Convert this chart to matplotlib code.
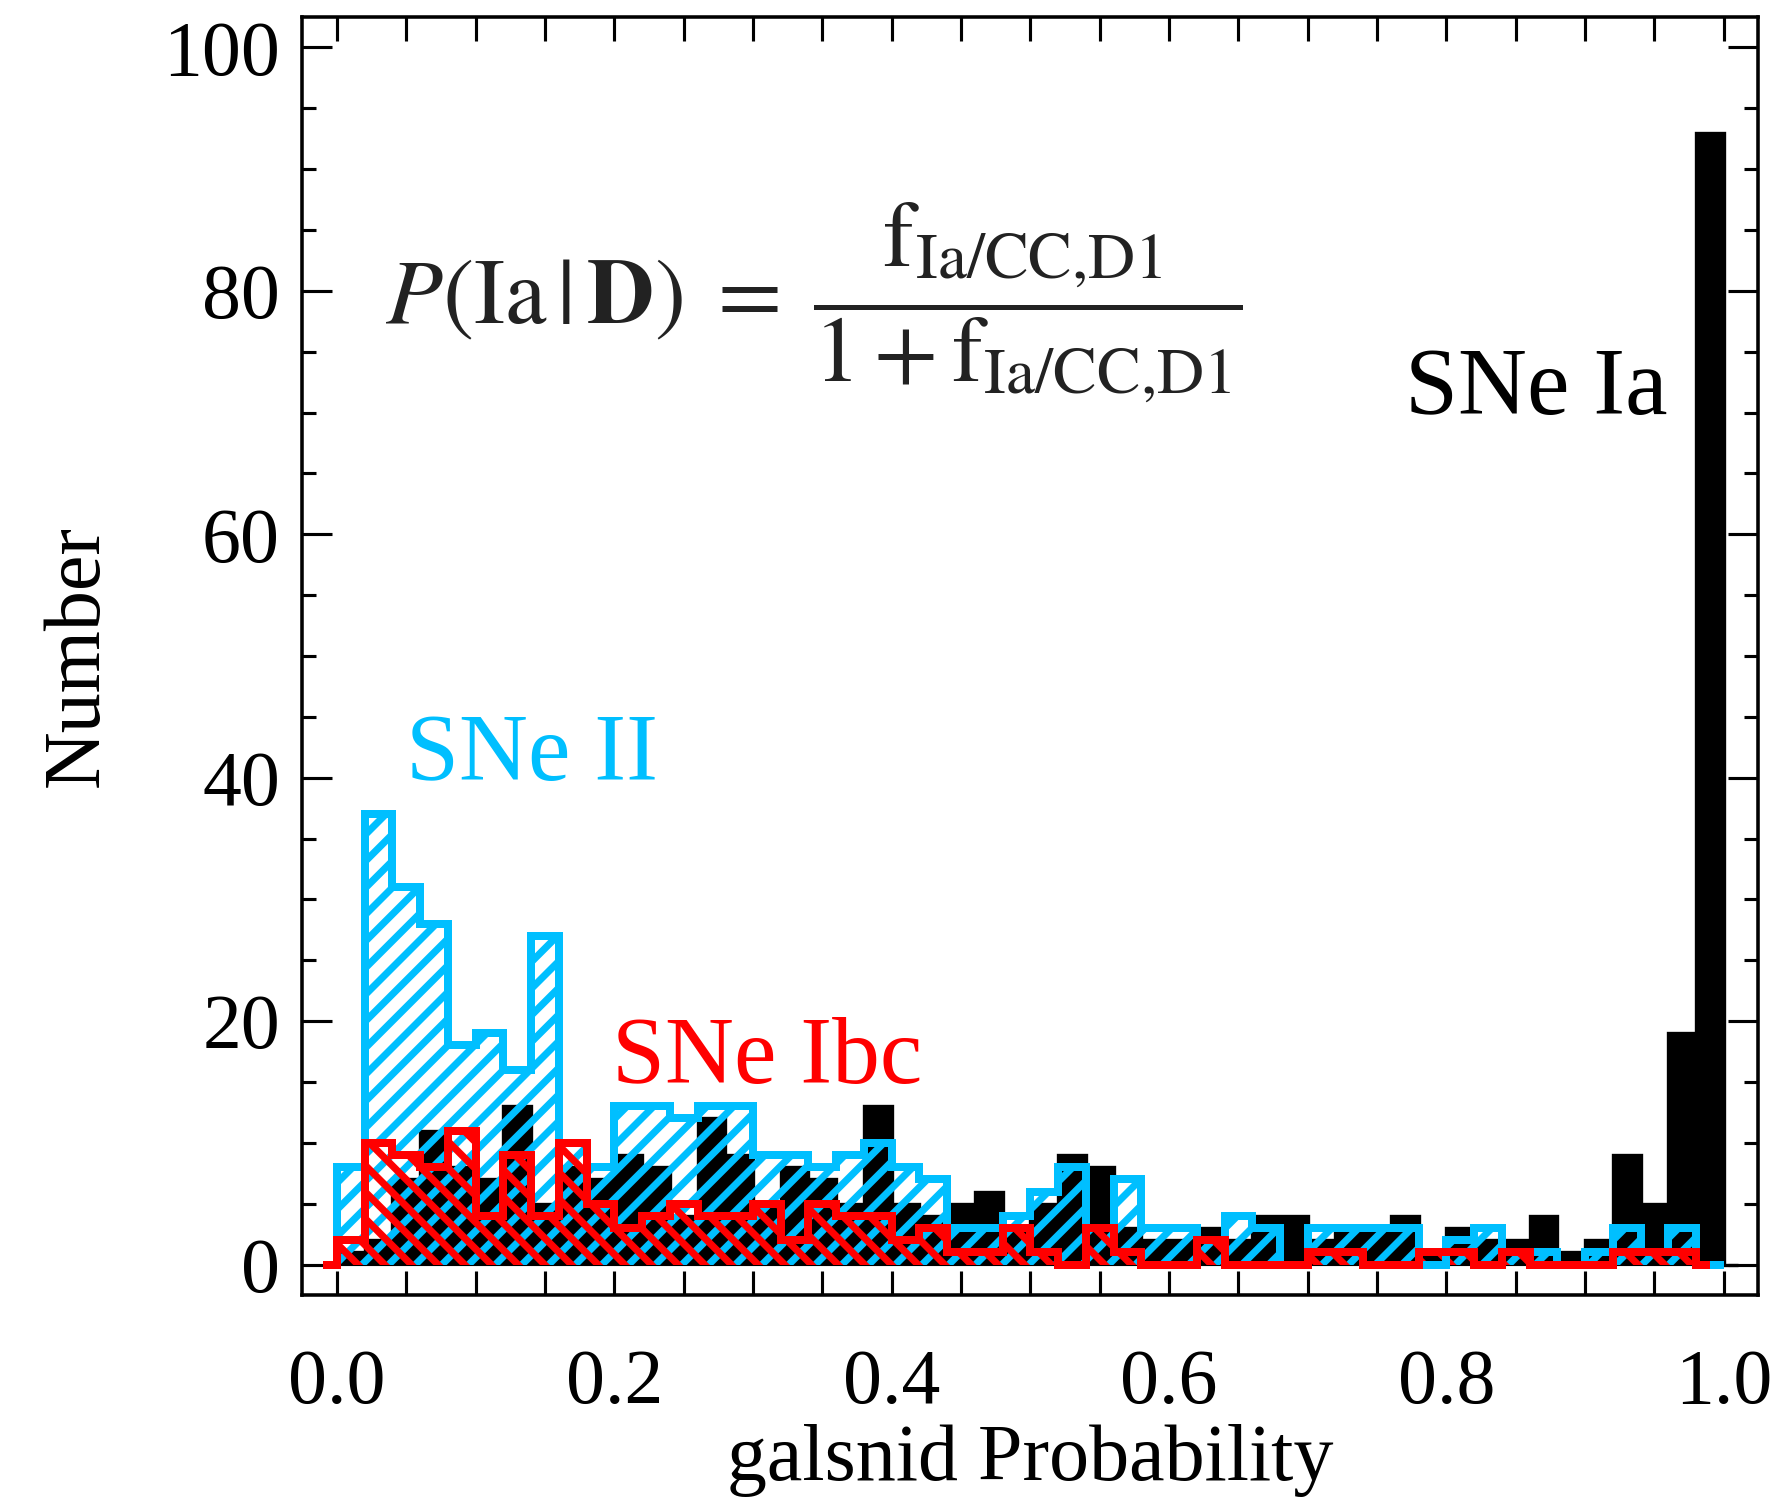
import matplotlib
matplotlib.use("Agg")
import matplotlib.pyplot as plt
from matplotlib.ticker import MultipleLocator
import numpy as np

# galsnid probability histograms, bins of 0.02 from 0 to 1
bin_width = 0.02
bin_lo = np.arange(50) * bin_width

n_ia = [1, 2, 7, 11, 8, 7, 13, 5, 8, 7,
        9, 8, 4, 12, 9, 5, 8, 7, 5, 13,
        5, 4, 5, 6, 3, 5, 9, 8, 3, 2,
        2, 3, 2, 4, 4, 2, 3, 3, 4, 1,
        3, 2, 2, 4, 1, 2, 9, 5, 19, 93]

n_ii = [8, 37, 31, 28, 18, 19, 16, 27, 10, 8,
        13, 13, 12, 13, 13, 9, 9, 8, 9, 10,
        8, 7, 3, 3, 4, 6, 8, 3, 7, 3,
        3, 2, 4, 3, 0, 3, 3, 3, 3, 0,
        2, 3, 1, 1, 0, 1, 3, 1, 3, 0]

n_ibc = [2, 10, 9, 8, 11, 4, 9, 4, 10, 5,
         3, 4, 5, 4, 4, 5, 2, 5, 4, 4,
         2, 3, 1, 1, 3, 1, 0, 3, 1, 0,
         0, 2, 0, 0, 0, 1, 1, 0, 0, 1,
         1, 0, 1, 0, 0, 0, 1, 1, 1, 0]

c_ii = "#00BFFF"
c_ibc = "#FF0000"

plt.rcParams["font.family"] = ["Liberation Serif", "DejaVu Serif"]
plt.rcParams["mathtext.fontset"] = "stix"
plt.rcParams["hatch.linewidth"] = 3.2

dpi = 160
fig = plt.figure(figsize=(1778 / dpi, 1503 / dpi), dpi=dpi)
ax = fig.add_axes([0.170, 0.1384, 0.819, 0.8503])

edges = np.append(bin_lo, 1.0)

# filled SNe Ia histogram
ax.bar(bin_lo, n_ia, width=bin_width, align="edge", color="black",
       edgecolor="black", linewidth=0.5, zorder=2)
ax.stairs(np.append(n_ia, 0), np.append(edges, 1.01), color="black",
          linewidth=1.5, baseline=None, zorder=2)

# hatched SNe II and SNe Ibc
ax.bar(bin_lo, n_ii, width=bin_width, align="edge", fill=False,
       edgecolor=c_ii, hatch="//", linewidth=0, zorder=3)
ax.bar(bin_lo, n_ibc, width=bin_width, align="edge", fill=False,
       edgecolor=c_ibc, hatch="\\\\", linewidth=0, zorder=4)

ax.stairs(n_ii, edges, color=c_ii, linewidth=3.6, baseline=0, zorder=5)
ibc_vals = np.concatenate([[0], n_ibc[:49], [0]])
ibc_edges = np.concatenate([[-0.01], bin_lo, [0.99]])
ax.stairs(ibc_vals, ibc_edges, color=c_ibc, linewidth=3.6, baseline=None, zorder=6)

ax.set_xlim(-0.025, 1.025)
ax.set_ylim(-2.5, 102.5)

ax.xaxis.set_major_locator(MultipleLocator(0.2))
ax.xaxis.set_minor_locator(MultipleLocator(0.05))
ax.yaxis.set_major_locator(MultipleLocator(20))
ax.yaxis.set_minor_locator(MultipleLocator(5))
ax.xaxis.set_major_formatter(plt.FuncFormatter(lambda v, p: f"{v:.1f}"))

ax.tick_params(which="both", direction="in", top=True, right=True, width=1.4)
ax.tick_params(axis="x", which="both", length=11, pad=24, labelsize=35)
ax.tick_params(axis="y", which="major", length=13.5, pad=10, labelsize=35)
ax.tick_params(axis="y", which="minor", length=6.5)
for s in ax.spines.values():
    s.set_linewidth(1.6)

ax.set_xlabel("galsnid Probability", fontsize=36, labelpad=2)
ax.set_ylabel("Number", fontsize=36, labelpad=22)

ax.text(0.770, 69.9, "SNe Ia", fontsize=43, color="black", zorder=10)
ax.text(0.050, 39.8, "SNe II", fontsize=43, color=c_ii, zorder=10)
ax.text(0.198, 14.9, "SNe Ibc", fontsize=43, color=c_ibc, zorder=10)

eq = (r"$P(\mathrm{Ia}\,|\,\mathbf{D})\;=\;"
      r"\dfrac{\mathrm{f}_{\mathrm{Ia/CC{,}D1}}}{1+\mathrm{f}_{\mathrm{Ia/CC{,}D1}}}$")
ax.text(0.035, 79, eq, fontsize=42, color="#222222", ha="left", va="center", zorder=10)

fig.savefig("out.png", dpi=dpi)
